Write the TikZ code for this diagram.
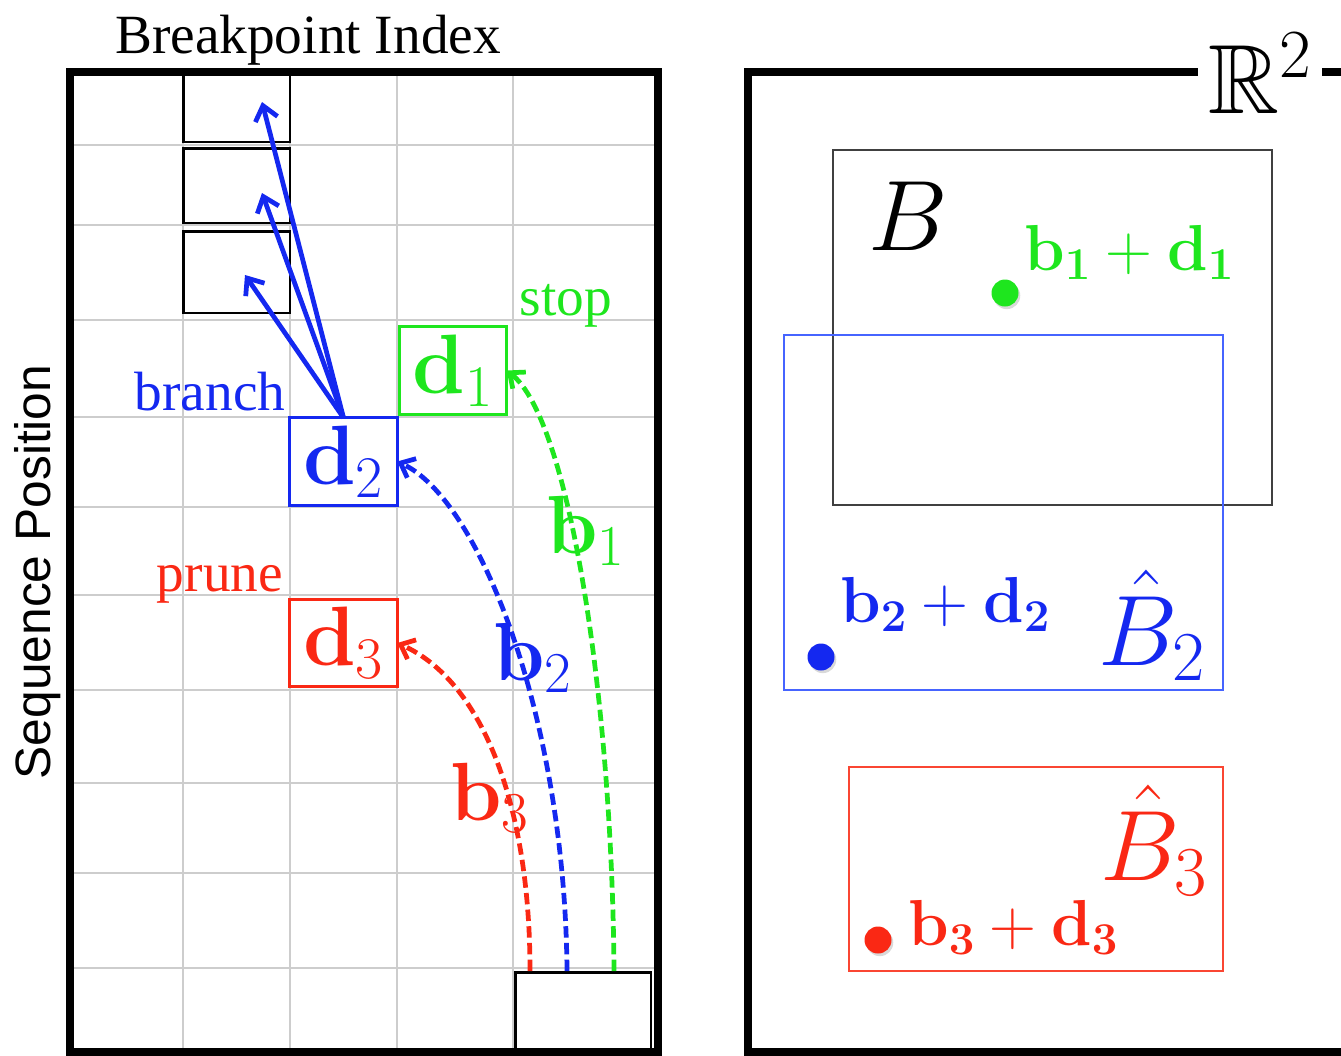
\RequirePackage{fix-cm}
\documentclass[tikz,border=0pt]{standalone}
\usepackage{amsmath,amssymb}
\usepackage[no-math]{fontspec}
\setmainfont{Liberation Serif}
\newfontfamily\helvfont{Liberation Sans}
\usetikzlibrary{arrows.meta,shadows}
\definecolor{mygreen}{RGB}{30,230,30}
\definecolor{myblue}{RGB}{20,40,240}
\definecolor{myred}{RGB}{250,40,20}
\definecolor{gridgray}{RGB}{205,205,205}
\definecolor{boxblue}{RGB}{70,100,255}
\definecolor{boxred}{RGB}{250,70,50}
\newcommand\myfs[1]{\fontsize{#1}{#1}\selectfont}
\begin{document}
\begin{tikzpicture}[x=0.02cm,y=-0.02cm,
  gridline/.style={gridgray,line width=0.85pt},
  frame/.style={black,line width=4.5pt},
  stackbox/.style={draw=black,line width=1.7pt,minimum width=2.14cm,inner sep=0pt,outer sep=0pt},
  dbox/.style={draw,line width=1.7pt,minimum width=2.15cm,minimum height=1.75cm,inner sep=0pt,outer sep=0pt,font=\myfs{48}},
  regionbox/.style={draw,line width=1.1pt,inner sep=0pt,outer sep=0pt},
  barrow/.style={myblue,line width=2.7pt,-{Straight Barb[length=8pt,width=13pt]}},
  dcurve/.style={line width=2.7pt,dash pattern=on 6.5pt off 3pt,-{Straight Barb[length=7pt,width=12pt]}},
  wordlabel/.style={anchor=base,inner sep=0pt,font=\myfs{31.5}},
  blabel/.style={anchor=base west,inner sep=0pt,font=\myfs{47}},
  sumlabel/.style={anchor=base west,inner sep=0pt,font=\myfs{37}},
  setlabel/.style={anchor=base west,inner sep=0pt,font=\myfs{57}},
  dot/.style={circle,fill,minimum size=0.54cm,inner sep=0pt,drop shadow={opacity=0.3,shadow xshift=1pt,shadow yshift=-1.5pt}}
]
\useasboundingbox (0,0) rectangle (1341,1055);

% ---------- left panel ----------
\foreach \x in {183,290,397,513} \draw[gridline] (\x,72) -- (\x,1052);
\foreach \y in {145,225,320,417,507,595,690,783,873,968} \draw[gridline] (70,\y) -- (658,\y);
\draw[frame] (70,72) rectangle (658,1052);

\node[wordlabel] (title) at (308,53) {Breakpoint Index};
\node[anchor=base,inner sep=0pt,rotate=90,font=\helvfont\myfs{28.3}] (ylab) at (51,572) {Sequence Position};

\node[stackbox,minimum height=1.38cm] (s1) at (236.5,107.5) {};
\node[stackbox,minimum height=1.50cm] (s2) at (236.5,185.5) {};
\node[stackbox,minimum height=1.64cm] (s3) at (236.5,272) {};

\node[stackbox,minimum width=2.72cm,minimum height=1.60cm] (start) at (583,1012) {};

\node[dbox,draw=mygreen,text=mygreen] (d1) at (453,370.5) {$\mathbf{d}_1$};
\node[dbox,draw=myblue,text=myblue] (d2) at (343.5,461.5) {$\mathbf{d}_2$};
\node[dbox,draw=myred,text=myred] (d3) at (343.5,643) {$\mathbf{d}_3$};

\node[wordlabel,text=mygreen] (stop) at (566,315) {stop};
\node[wordlabel,text=myblue] (branch) at (210,410) {branch};
\node[wordlabel,text=myred] (prune) at (220,591) {prune};

\coordinate (t1) at (262,102);
\coordinate (t2) at (262,193);
\coordinate (t3) at (245,275);
\draw[barrow] (d2.north) -- (t1);
\draw[barrow] (d2.north) -- (t2);
\draw[barrow] (d2.north) -- (t3);

\coordinate (sr) at (530,971);
\coordinate (sb) at (567,971);
\coordinate (sg) at (614,971);
\draw[dcurve,myred] (sr) .. controls +(0,-170) and +(83,37) .. (d3.east);
\draw[dcurve,myblue] (sb) .. controls +(-2,-251) and +(83,38.5) .. (d2.east);
\draw[dcurve,mygreen] (sg) .. controls +(-2,-271) and +(63,49.5) .. (d1.east);

\node[blabel,text=mygreen] (b1) at (546,553) {$\mathbf{b}_1$};
\node[blabel,text=myblue] (b2) at (493,680) {$\mathbf{b}_2$};
\node[blabel,text=myred] (b3) at (450,820) {$\mathbf{b}_3$};

% ---------- right panel ----------
\draw[frame] (1360,72) -- (748,72) -- (748,1052) -- (1360,1052);
\node[anchor=base west,fill=white,inner xsep=0.2cm,inner ysep=0.1cm,font=\myfs{56}] (R2) at (1198,113) {$\mathbb{R}^2$};

\node[regionbox,draw=black!75,minimum width=8.78cm,minimum height=7.10cm] (Bbox) at (1052.5,327.5) {};
\node[regionbox,draw=boxblue,minimum width=8.78cm,minimum height=7.10cm] (B2box) at (1003.5,512.5) {};
\node[regionbox,draw=boxred,minimum width=7.48cm,minimum height=4.08cm] (B3box) at (1036,869) {};

\node[setlabel] (Blab) at (868,250) {$B$};
\node[setlabel,text=myblue] (B2lab) at (1098,665) {$\hat{B}_2$};
\node[setlabel,text=myred] (B3lab) at (1100,880) {$\hat{B}_3$};

\node[dot,mygreen] (p1) at (1005,293) {};
\node[dot,myblue] (p2) at (821,657) {};
\node[dot,myred] (p3) at (878,940) {};

\node[sumlabel,text=mygreen] (s1lab) at (1024,270) {$\mathbf{b_1}+\mathbf{d_1}$};
\node[sumlabel,text=myblue] (s2lab) at (840,622) {$\mathbf{b_2}+\mathbf{d_2}$};
\node[sumlabel,text=myred] (s3lab) at (908,945) {$\mathbf{b_3}+\mathbf{d_3}$};
\end{tikzpicture}
\end{document}
